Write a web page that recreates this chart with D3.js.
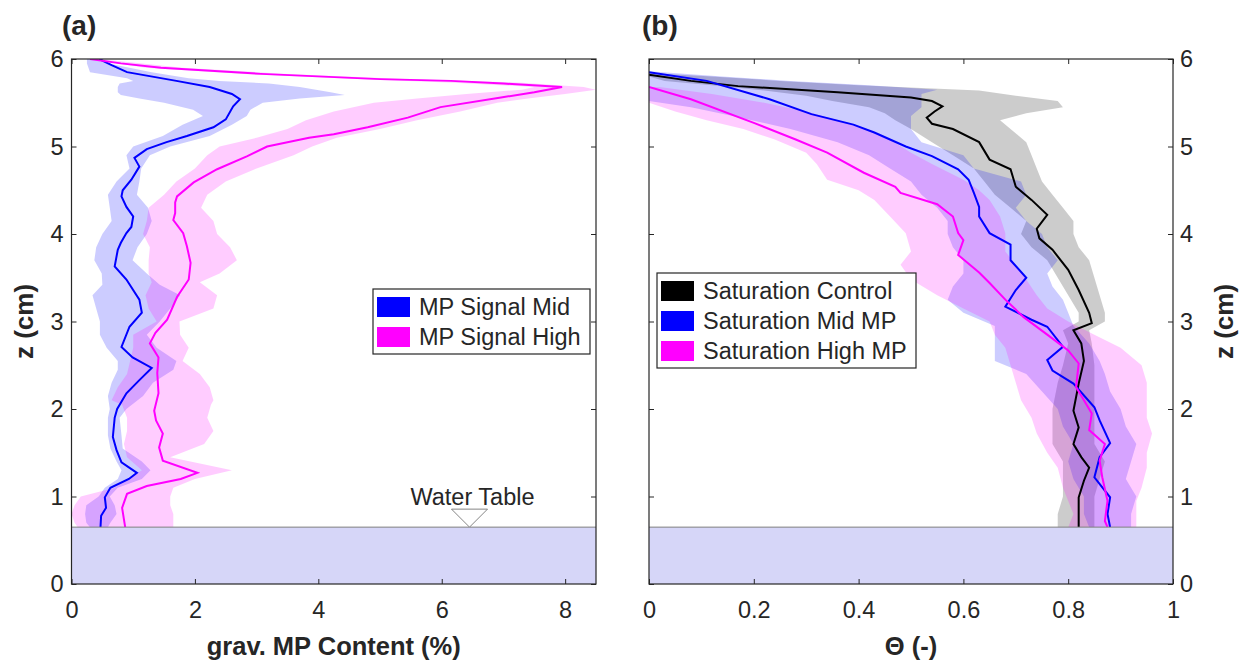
<!DOCTYPE html>
<html>
<head>
<meta charset="utf-8">
<script src="https://cdn.jsdelivr.net/npm/d3@7"></script>
<style>
body { margin: 0; background: #fff; }
text { font-family: Arial, "Liberation Sans", sans-serif; fill: #262626; }
</style>
</head>
<body>
<div id="chart"></div>
<script>
// ---- panel (a): grav. MP content, [z (cm), value] ----
const midLine = [[6.0,0.45],[5.93,0.65],[5.85,0.9],[5.75,1.7],[5.68,2.24],[5.6,2.6],[5.54,2.73],[5.46,2.62],[5.31,2.5],[5.22,2.3],[5.12,1.87],[5.05,1.54],[4.97,1.22],[4.87,1.02],[4.77,1.1],[4.62,0.97],[4.5,0.83],[4.43,0.81],[4.31,0.89],[4.2,1.0],[4.08,0.97],[4.01,0.89],[3.9,0.8],[3.82,0.75],[3.63,0.7],[3.48,0.89],[3.25,1.1],[3.1,1.14],[2.94,0.94],[2.71,0.81],[2.59,0.99],[2.47,1.3],[2.33,1.1],[2.18,0.89],[2.0,0.74],[1.9,0.7],[1.68,0.67],[1.53,0.73],[1.39,0.81],[1.27,1.06],[1.2,0.93],[1.1,0.63],[0.99,0.54],[0.87,0.56],[0.78,0.48],[0.65,0.47]];
const highLine = [[6.0,0.3],[5.95,0.8],[5.9,1.45],[5.83,3.07],[5.77,5.0],[5.75,6.15],[5.72,7.0],[5.68,7.95],[5.62,7.5],[5.56,6.96],[5.45,5.98],[5.33,5.45],[5.22,4.8],[5.14,4.25],[5.1,3.85],[5.0,3.17],[4.89,2.85],[4.74,2.36],[4.59,1.98],[4.43,1.71],[4.36,1.68],[4.24,1.68],[4.16,1.65],[4.01,1.81],[3.86,1.87],[3.67,1.93],[3.48,1.9],[3.28,1.71],[3.02,1.55],[2.87,1.36],[2.75,1.27],[2.59,1.41],[2.41,1.39],[2.18,1.41],[1.98,1.34],[1.87,1.37],[1.72,1.48],[1.56,1.42],[1.41,1.48],[1.27,2.04],[1.2,1.77],[1.12,1.22],[1.03,0.9],[0.87,0.82],[0.65,0.87]];
// [z, low, high]
const midBand = [[6.0,0.25,0.5],[5.95,0.25,0.6],[5.85,0.3,1.3],[5.78,0.9,1.9],[5.75,1.0,2.4],[5.72,0.78,3.2],[5.68,0.75,3.7],[5.62,0.75,4.2],[5.59,0.8,4.43],[5.55,1.1,3.7],[5.5,1.5,3.1],[5.42,1.97,2.9],[5.35,2.13,2.84],[5.25,1.8,2.6],[5.12,1.48,2.24],[5.0,1.0,1.6],[4.9,0.89,1.27],[4.75,0.94,1.13],[4.6,0.73,1.1],[4.45,0.59,1.06],[4.3,0.62,1.24],[4.15,0.65,1.3],[4.0,0.5,1.22],[3.85,0.4,1.07],[3.7,0.37,0.99],[3.55,0.49,1.22],[3.42,0.5,1.43],[3.3,0.34,1.76],[3.15,0.4,1.6],[3.0,0.46,1.43],[2.85,0.46,1.22],[2.7,0.57,1.38],[2.55,0.75,1.7],[2.45,0.75,1.65],[2.3,0.65,1.32],[2.15,0.59,1.16],[2.0,0.62,0.89],[1.9,0.59,0.78],[1.7,0.59,0.81],[1.55,0.63,0.83],[1.4,0.73,1.14],[1.3,0.81,1.28],[1.2,0.75,1.14],[1.1,0.54,0.75],[1.0,0.44,0.62],[0.9,0.24,0.7],[0.8,0.22,0.73],[0.7,0.24,0.63],[0.65,0.3,0.59]];
const highBand = [[6.0,0.3,0.45],[5.9,1.2,1.8],[5.83,2.8,3.5],[5.77,4.7,5.5],[5.73,6.2,7.3],[5.68,7.5,8.3],[5.65,7.3,8.5],[5.6,6.4,8.0],[5.55,5.6,7.4],[5.5,4.9,6.9],[5.4,4.25,6.3],[5.3,3.8,5.6],[5.2,3.5,5.0],[5.1,3.0,4.3],[5.0,2.4,3.9],[4.9,2.2,3.6],[4.75,2.0,3.0],[4.6,1.7,2.5],[4.45,1.5,2.2],[4.3,1.25,2.1],[4.15,1.22,2.3],[4.0,1.16,2.36],[3.85,1.27,2.57],[3.7,1.25,2.68],[3.55,1.25,2.4],[3.45,1.3,2.08],[3.3,1.2,2.36],[3.15,1.25,2.3],[3.0,1.38,1.75],[2.85,1.0,1.76],[2.7,1.0,1.9],[2.55,0.95,1.8],[2.4,0.9,2.08],[2.25,0.75,2.24],[2.1,0.65,2.3],[2.05,0.82,2.26],[1.9,0.9,2.2],[1.75,0.9,2.3],[1.6,0.85,2.15],[1.45,0.9,1.6],[1.3,1.14,2.6],[1.2,0.9,2.0],[1.1,0.7,1.65],[1.0,0.15,1.6],[0.9,0.05,1.6],[0.8,0.0,1.65],[0.7,0.05,1.65],[0.65,0.1,1.65]];

// ---- panel (b): saturation ----
const ctrlLineB = [[5.82,0],[5.75,0.08],[5.69,0.17],[5.62,0.36],[5.56,0.5],[5.52,0.54],[5.46,0.56],[5.4,0.545],[5.33,0.53],[5.26,0.54],[5.2,0.58],[5.05,0.63],[4.85,0.65],[4.74,0.69],[4.54,0.7],[4.39,0.73],[4.22,0.76],[4.06,0.74],[3.95,0.745],[3.82,0.77],[3.59,0.8],[3.36,0.82],[3.1,0.84],[2.98,0.845],[2.9,0.81],[2.75,0.825],[2.55,0.83],[2.29,0.82],[1.98,0.81],[1.79,0.82],[1.6,0.81],[1.45,0.825],[1.33,0.84],[1.18,0.83],[0.99,0.82],[0.8,0.82],[0.65,0.82]];
const midLineB = [[5.85,0],[5.75,0.11],[5.54,0.23],[5.37,0.31],[5.25,0.39],[5.16,0.43],[5.0,0.49],[4.89,0.54],[4.74,0.59],[4.62,0.61],[4.47,0.62],[4.31,0.63],[4.2,0.63],[4.01,0.65],[3.88,0.69],[3.7,0.69],[3.5,0.72],[3.36,0.7],[3.17,0.68],[3.02,0.73],[2.94,0.76],[2.71,0.79],[2.56,0.76],[2.44,0.77],[2.29,0.81],[2.02,0.85],[1.87,0.86],[1.61,0.88],[1.45,0.86],[1.22,0.85],[0.99,0.88],[0.8,0.875],[0.65,0.88]];
const highLineB = [[5.68,0],[5.54,0.08],[5.27,0.2],[5.08,0.28],[4.93,0.34],[4.7,0.41],[4.54,0.47],[4.47,0.48],[4.34,0.55],[4.2,0.58],[4.01,0.59],[3.93,0.6],[3.76,0.59],[3.56,0.63],[3.44,0.65],[3.25,0.68],[3.05,0.715],[2.85,0.76],[2.67,0.8],[2.52,0.82],[2.25,0.815],[2.1,0.83],[1.95,0.845],[1.76,0.84],[1.6,0.87],[1.41,0.86],[1.22,0.865],[0.95,0.875],[0.72,0.87],[0.65,0.875]];
const ctrlBandB = [[5.84,0,0.0],[5.8,0,0.12],[5.75,0.03,0.25],[5.7,0.12,0.4],[5.64,0.22,0.63],[5.58,0.3,0.7],[5.52,0.35,0.78],[5.45,0.42,0.79],[5.38,0.45,0.72],[5.3,0.47,0.67],[5.2,0.5,0.69],[5.05,0.54,0.72],[4.9,0.58,0.73],[4.75,0.62,0.74],[4.6,0.64,0.75],[4.45,0.66,0.77],[4.3,0.69,0.79],[4.15,0.72,0.81],[4.0,0.71,0.81],[3.85,0.73,0.82],[3.7,0.76,0.84],[3.5,0.78,0.85],[3.3,0.8,0.86],[3.1,0.82,0.87],[3.0,0.82,0.87],[2.9,0.79,0.84],[2.75,0.8,0.845],[2.5,0.79,0.85],[2.3,0.78,0.85],[2.0,0.77,0.85],[1.8,0.77,0.85],[1.6,0.77,0.85],[1.4,0.79,0.87],[1.2,0.79,0.86],[1.0,0.79,0.85],[0.8,0.78,0.85],[0.65,0.78,0.85]];
const midBandB = [[5.86,0,0.0],[5.8,0,0.14],[5.75,0,0.27],[5.7,0,0.42],[5.65,0,0.55],[5.6,0,0.52],[5.52,0.0,0.52],[5.45,0.08,0.52],[5.35,0.16,0.5],[5.2,0.27,0.5],[5.05,0.36,0.52],[4.9,0.42,0.6],[4.75,0.46,0.62],[4.6,0.5,0.71],[4.45,0.52,0.72],[4.3,0.55,0.7],[4.15,0.57,0.72],[4.0,0.57,0.75],[3.85,0.58,0.76],[3.7,0.6,0.78],[3.55,0.6,0.76],[3.4,0.58,0.77],[3.25,0.57,0.79],[3.1,0.6,0.8],[2.95,0.66,0.81],[2.75,0.66,0.84],[2.55,0.66,0.86],[2.4,0.72,0.87],[2.2,0.75,0.88],[2.0,0.78,0.9],[1.8,0.79,0.91],[1.6,0.81,0.93],[1.4,0.8,0.92],[1.2,0.81,0.91],[1.0,0.83,0.93],[0.8,0.83,0.92],[0.65,0.84,0.92]];
const highBandB = [[5.68,0,0.02],[5.6,0,0.12],[5.5,0,0.22],[5.4,0.05,0.3],[5.3,0.11,0.36],[5.2,0.18,0.41],[5.08,0.24,0.46],[4.93,0.3,0.5],[4.8,0.32,0.54],[4.62,0.34,0.6],[4.5,0.4,0.63],[4.39,0.43,0.65],[4.2,0.46,0.67],[4.01,0.49,0.68],[3.8,0.5,0.68],[3.65,0.48,0.7],[3.48,0.5,0.72],[3.3,0.55,0.74],[3.15,0.6,0.76],[3.0,0.65,0.8],[2.85,0.66,0.85],[2.7,0.68,0.9],[2.5,0.69,0.94],[2.3,0.7,0.95],[2.1,0.71,0.95],[1.9,0.73,0.95],[1.72,0.74,0.96],[1.5,0.76,0.95],[1.33,0.78,0.95],[1.1,0.79,0.94],[0.95,0.8,0.93],[0.8,0.81,0.93],[0.65,0.8,0.93]];

const zTicks = [0, 1, 2, 3, 4, 5, 6];
const xTicksA = [0, 2, 4, 6, 8];
const xTicksB = [0, 0.2, 0.4, 0.6, 0.8, 1];
const waterTable = 0.65;
const markerX = 6.45;
const legendA = ['MP Signal Mid', 'MP Signal High'];
const legendB = ['Saturation Control', 'Saturation Mid MP', 'Saturation High MP'];

const width = 1245;
const height = 661;
const plotTop = 59;
const plotBottom = 584;
const axisColor = '#262626';

const svg = d3.select('#chart').append('svg')
    .attr('width', width)
    .attr('height', height);

const y = d3.scaleLinear().domain([0, 6]).range([plotBottom, plotTop]);
const xA = d3.scaleLinear().domain([0, 8.5]).range([71.5, 596]);
const xB = d3.scaleLinear().domain([0, 1]).range([649, 1173]);

const bandPath = (x) => d3.area().y(d => y(d[0])).x0(d => x(d[1])).x1(d => x(d[2]));
const linePath = (x) => d3.line().y(d => y(d[0])).x(d => x(d[1]));

function drawPanel(id, x, bands, lines, xTicks, fmt, yLabelsRight) {
    const [left, right] = x.range();
    const g = svg.append('g');

    svg.append('clipPath').attr('id', id)
        .append('rect')
        .attr('x', left).attr('y', plotTop)
        .attr('width', right - left).attr('height', plotBottom - plotTop);

    const plot = g.append('g').attr('clip-path', `url(#${id})`);

    bands.forEach(b => {
        plot.append('path')
            .attr('d', bandPath(x)(b.data))
            .attr('fill', b.color)
            .attr('fill-opacity', 0.2);
    });

    lines.forEach(l => {
        plot.append('path')
            .attr('d', linePath(x)(l.data))
            .attr('fill', 'none')
            .attr('stroke', l.color)
            .attr('stroke-width', 2);
    });

    // water-saturated zone
    plot.append('rect')
        .attr('x', left).attr('y', y(waterTable))
        .attr('width', right - left).attr('height', y(0) - y(waterTable))
        .attr('fill', '#d6d6f8');
    plot.append('line')
        .attr('x1', left).attr('x2', right)
        .attr('y1', y(waterTable)).attr('y2', y(waterTable))
        .attr('stroke', '#7f7f7f').attr('stroke-width', 1);

    // axes, ticks pointing inward
    const styleAxis = (a) => {
        a.select('.domain').remove();
        a.attr('color', axisColor);
        a.selectAll('text').attr('font-size', 23.5).attr('font-family', null);
    };
    g.append('g').attr('transform', `translate(0,${plotBottom})`)
        .call(d3.axisBottom(x).tickValues(xTicks).tickSizeInner(-5).tickSizeOuter(0).tickPadding(17).tickFormat(fmt))
        .call(styleAxis);
    g.append('g').attr('transform', `translate(0,${plotTop})`)
        .call(d3.axisTop(x).tickValues(xTicks).tickSizeInner(-5).tickSizeOuter(0).tickFormat(''))
        .call(styleAxis);
    g.append('g').attr('transform', `translate(${left},0)`)
        .call(d3.axisLeft(y).tickValues(zTicks).tickSizeInner(-5).tickSizeOuter(0).tickPadding(8)
            .tickFormat(yLabelsRight ? '' : d3.format('d')))
        .call(styleAxis);
    g.append('g').attr('transform', `translate(${right},0)`)
        .call(d3.axisRight(y).tickValues(zTicks).tickSizeInner(-5).tickSizeOuter(0).tickPadding(7)
            .tickFormat(yLabelsRight ? d3.format('d') : ''))
        .call(styleAxis);

    g.append('rect')
        .attr('x', left).attr('y', plotTop)
        .attr('width', right - left).attr('height', plotBottom - plotTop)
        .attr('fill', 'none')
        .attr('stroke', axisColor)
        .attr('stroke-width', 1.2);

    return g;
}

function drawLegend(g, x0, y0, w, rowH, names, colors) {
    const h = rowH * names.length + 5;
    g.append('rect')
        .attr('x', x0).attr('y', y0).attr('width', w).attr('height', h)
        .attr('fill', '#fff').attr('stroke', axisColor).attr('stroke-width', 1.2);
    const rows = g.selectAll(null).data(names).enter().append('g')
        .attr('transform', (d, i) => `translate(${x0 + 4},${y0 + 3 + rowH / 2 + i * rowH})`);
    rows.append('rect')
        .attr('x', 0).attr('y', -10).attr('width', 33).attr('height', 20)
        .attr('fill', (d, i) => colors[i]);
    rows.append('text')
        .attr('x', 42).attr('dy', '0.36em')
        .attr('font-size', 23.5)
        .text(d => d);
}

// panel (a)
const gA = drawPanel('clipA', xA,
    [{ data: midBand, color: '#0000ff' }, { data: highBand, color: '#ff00ff' }],
    [{ data: midLine, color: '#0000ff' }, { data: highLine, color: '#ff00ff' }],
    xTicksA, d3.format('d'), false);

// water table marker
const wy = y(waterTable);
const wx = xA(markerX);
gA.append('path')
    .attr('d', `M${wx - 18},${wy - 18}L${wx + 18},${wy - 18}L${wx},${wy}Z`)
    .attr('fill', '#fff').attr('stroke', '#666').attr('stroke-width', 0.8);
gA.append('text')
    .attr('x', wx + 3).attr('y', wy - 22)
    .attr('text-anchor', 'middle')
    .attr('font-size', 23.5)
    .text('Water Table');

drawLegend(gA, 373, 289, 217, 30, legendA, ['#0000ff', '#ff00ff']);

// panel (b)
const gB = drawPanel('clipB', xB,
    [{ data: ctrlBandB, color: '#000000' }, { data: midBandB, color: '#0000ff' }, { data: highBandB, color: '#ff00ff' }],
    [{ data: ctrlLineB, color: '#000000' }, { data: midLineB, color: '#0000ff' }, { data: highLineB, color: '#ff00ff' }],
    xTicksB, d => (d === 0 || d === 1) ? String(d) : d.toFixed(1), true);

drawLegend(gB, 657, 273, 259, 30, legendB, ['#000000', '#0000ff', '#ff00ff']);

// labels
svg.append('text').attr('x', 62).attr('y', 35)
    .attr('font-size', 28).attr('font-weight', 'bold').text('(a)');
svg.append('text').attr('x', 642).attr('y', 35)
    .attr('font-size', 28).attr('font-weight', 'bold').text('(b)');

svg.append('text')
    .attr('x', (xA.range()[0] + xA.range()[1]) / 2).attr('y', 655)
    .attr('text-anchor', 'middle').attr('font-size', 25.5).attr('font-weight', 'bold')
    .text('grav. MP Content (%)');
svg.append('text')
    .attr('x', (xB.range()[0] + xB.range()[1]) / 2).attr('y', 655)
    .attr('text-anchor', 'middle').attr('font-size', 25.5).attr('font-weight', 'bold')
    .text('Θ (-)');

const midY = (plotTop + plotBottom) / 2;
svg.append('text')
    .attr('transform', `translate(33,${midY}) rotate(-90)`)
    .attr('text-anchor', 'middle').attr('font-size', 26).attr('font-weight', 'bold')
    .text('z (cm)');
svg.append('text')
    .attr('transform', `translate(1233,${midY}) rotate(-90)`)
    .attr('text-anchor', 'middle').attr('font-size', 26).attr('font-weight', 'bold')
    .text('z (cm)');
</script>
</body>
</html>
